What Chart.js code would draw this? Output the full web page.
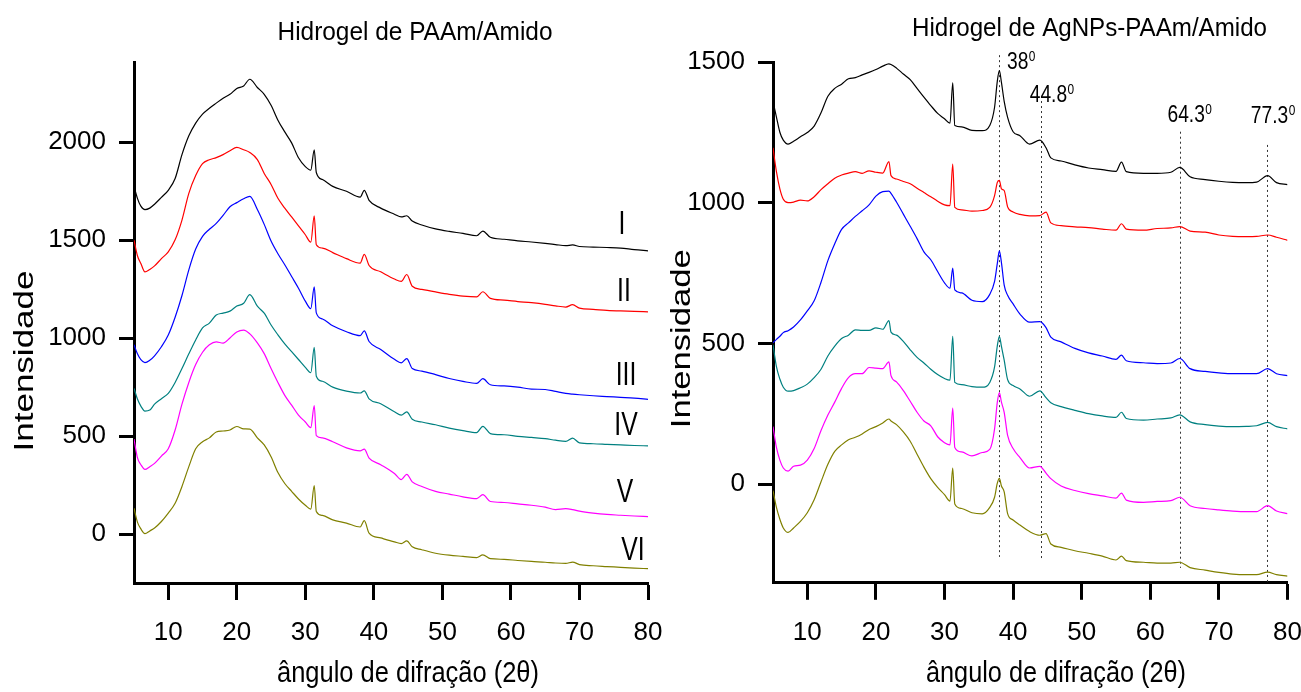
<!DOCTYPE html>
<html><head><meta charset="utf-8">
<script src="https://cdn.jsdelivr.net/npm/chart.js@4/dist/chart.umd.min.js"></script>
<style>
html,body{margin:0;padding:0;background:#fff;}
#wrap{position:relative;width:1301px;height:692px;overflow:hidden;background:#fff;}
canvas{position:absolute;top:0;}
</style></head><body>
<div id="wrap">
<canvas id="cl" width="680" height="692" style="left:0px"></canvas>
<canvas id="cr" width="661" height="692" style="left:640px"></canvas>
</div>
<script>
const FONT = '"Liberation Sans", Arial, Helvetica, sans-serif';

// ---------- tick labels ----------
const xTicks  = [10, 20, 30, 40, 50, 60, 70, 80];
const yTicksL = [0, 500, 1000, 1500, 2000];
const yTicksR = [0, 500, 1000, 1500];

// ---------- Left panel: Hidrogel de PAAm/Amido ----------
const anglesL = [5,5.5,6,6.6,7.3,8,9,10,11,12,13,14,15,16,17,18,19,20,21,21.9,23,24,25,26,27,28,29,30,30.8,31.3,31.6,32.5,34,36,38,38.6,39.3,41,43,44,44.8,45.6,47,49,51,53,55,55.9,57,59,61,63,65,66.5,68,69,70,72,74,76,78,80];
const L_I   = [1776,1714,1674,1656,1664,1684,1719,1755,1815,1937,2033,2098,2144,2174,2200,2225,2245,2275,2288,2322,2280,2245,2189,2113,2053,1997,1921,1876,1858,1962,1846,1810,1775,1750,1720,1755,1704,1664,1633,1619,1625,1598,1578,1558,1545,1535,1523,1547,1515,1505,1497,1491,1484,1478,1472,1476,1468,1465,1463,1460,1452,1446];
const L_II  = [1500,1421,1381,1338,1351,1369,1406,1441,1502,1603,1739,1830,1891,1911,1922,1937,1957,1974,1962,1948,1912,1841,1785,1714,1664,1619,1573,1528,1490,1624,1477,1460,1437,1406,1383,1428,1371,1339,1302,1290,1325,1265,1249,1236,1224,1215,1211,1237,1203,1194,1187,1181,1173,1165,1159,1171,1153,1147,1142,1139,1137,1134];
const L_III = [967,920,890,875,887,910,956,1016,1107,1218,1349,1455,1520,1556,1586,1627,1671,1692,1712,1724,1657,1581,1496,1431,1375,1315,1255,1189,1151,1262,1129,1098,1063,1033,1013,1037,983,942,892,874,896,845,832,814,794,779,769,793,762,756,750,740,738,728,718,714,711,706,702,698,694,688];
const L_IV  = [744,689,653,628,633,663,691,718,774,845,920,991,1052,1077,1118,1128,1138,1164,1178,1222,1163,1128,1067,1017,971,931,891,851,824,953,806,780,750,730,720,731,690,665,624,607,624,586,572,558,541,528,518,550,513,507,499,493,487,479,473,490,465,461,458,455,452,450];
const L_V   = [485,390,354,330,344,361,398,435,531,663,774,865,928,966,981,975,1001,1032,1041,1022,976,921,845,774,708,658,607,572,543,656,502,491,471,440,425,433,388,354,309,278,305,266,243,218,204,190,181,201,166,161,154,147,137,125,130,125,117,107,100,96,92,89];
const L_VI  = [132,61,26,2,16,31,64,107,157,243,344,435,471,491,521,526,531,549,537,536,491,455,395,314,258,218,179,147,127,247,115,95,72,56,36,68,5,-20,-40,-49,-35,-65,-80,-98,-108,-114,-120,-106,-126,-129,-135,-140,-144,-148,-150,-143,-156,-162,-166,-170,-174,-177];
const romanLabels = ['I','II','III','IV','V','VI'];

// ---------- Right panel: Hidrogel de AgNPs-PAAm/Amido ----------
const anglesR = [5,5.5,6,6.5,7.2,8,9,10,11,12,13,14,15,16,17,18,19,20,21,21.9,22.2,23,24,25,26,27,28,29,30,30.8,31.2,31.5,32.5,34,35.5,36.6,37.3,37.7,38,38.3,38.7,39.2,40,41,42.4,43.9,44.8,45.5,47,49,51,53,55,55.8,56.5,59,61,63,64.3,65.8,68,70,72,74,75.5,77.1,78.4,80];
const R_I   = [1361,1305,1251,1223,1209,1219,1235,1250,1273,1320,1379,1407,1422,1441,1445,1455,1464,1474,1486,1494,1492,1479,1458,1438,1407,1376,1346,1318,1299,1283,1427,1275,1270,1258,1257,1275,1340,1433,1470,1428,1361,1304,1253,1239,1209,1223,1196,1160,1149,1135,1124,1118,1112,1145,1111,1105,1105,1109,1126,1093,1083,1077,1073,1072,1074,1097,1072,1065];
const R_II  = [1196,1111,1050,1013,1001,1003,1010,1007,1022,1047,1068,1088,1099,1106,1111,1105,1114,1109,1106,1147,1097,1085,1076,1068,1052,1037,1022,1006,993,990,1138,984,975,971,973,984,1026,1073,1080,1050,1044,986,968,959,954,955,967,929,919,915,912,907,903,926,907,903,909,911,916,900,896,886,881,880,881,886,878,867];
const R_III = [503,515,526,539,546,559,584,616,652,718,795,855,906,929,952,972,993,1024,1040,1042,1034,1003,960,917,873,826,798,756,716,697,768,691,680,654,649,675,721,785,830,788,708,672,641,605,576,578,557,523,506,483,467,456,444,459,439,432,429,431,447,411,401,396,393,393,393,411,393,386];
const R_IV  = [496,418,374,345,331,333,343,356,379,409,456,491,518,530,549,547,547,556,551,582,541,530,508,478,451,431,409,390,376,370,526,362,354,347,345,362,417,492,526,490,441,372,351,339,313,332,308,290,276,263,251,243,238,256,234,228,232,236,247,222,212,207,205,206,208,220,205,197];
const R_V   = [205,131,86,58,47,64,68,86,127,191,246,292,341,379,393,393,415,413,411,435,386,364,333,295,256,225,208,169,148,140,271,131,115,101,113,124,197,292,326,292,256,174,127,95,58,64,40,20,-6,-22,-33,-41,-49,-31,-56,-64,-61,-58,-46,-76,-86,-91,-95,-97,-97,-76,-95,-104];
const R_VI  = [-22,-82,-124,-155,-171,-155,-132,-101,-55,9,71,117,140,158,167,179,195,205,218,232,225,212,186,153,107,61,20,-11,-37,-60,58,-70,-86,-101,-105,-82,-46,4,21,-6,-27,-104,-127,-145,-168,-181,-175,-212,-224,-236,-245,-255,-269,-255,-271,-277,-280,-280,-277,-296,-305,-313,-319,-321,-321,-312,-321,-326];

// Ag reflections marked on the right panel
const peakAngles  = [38, 44.05, 64.3, 77.0];
const peakLabels  = ['38', '44.8', '64.3', '77.3'];
const peakTop     = [1525, 1362, 1253, 1206];
const peakBottom  = [-258, -262, -297, -350];

const seriesColors = ['#000000','#ff0000','#0000ff','#008080','#ff00ff','#808000'];

// ---------- helpers ----------
function drawText(ctx, txt, x, y, o) {
  ctx.save();
  ctx.font = o.size + 'px ' + FONT;
  ctx.fillStyle = '#000';
  ctx.textAlign = o.align || 'left';
  ctx.textBaseline = 'alphabetic';
  ctx.translate(x, y);
  if (o.rot) ctx.rotate(o.rot);
  let sx = o.sx || 1;
  if (o.w) sx = o.w / ctx.measureText(txt).width;
  ctx.scale(sx, o.sy || 1);
  ctx.fillText(txt, 0, 0);
  const w = ctx.measureText(txt).width * sx;
  ctx.restore();
  return w;
}

function makeDatasets(angles, list) {
  return list.map((vals, i) => ({
    data: angles.map((a, k) => ({x: a, y: vals[k]})),
    borderColor: seriesColors[i],
    borderWidth: 1.2,
    pointRadius: 0,
    cubicInterpolationMode: 'monotone',
    fill: false
  }));
}

function scalesFor(ymin, ymax, yTicks, yWidth, xHeight) {
  const tickFont = {family: FONT, size: 26};
  return {
    x: {
      type: 'linear', min: 5, max: 80,
      afterBuildTicks: s => { s.ticks = xTicks.map(v => ({value: v})); },
      ticks: {autoSkip: false, maxRotation: 0, minRotation: 0, padding: 17, color: '#000', font: tickFont,
              callback: v => String(v)},
      grid: {drawOnChartArea: false, drawTicks: true, tickLength: 17, tickWidth: 3, tickColor: '#000'},
      border: {display: true, width: 3, color: '#000'},
      afterFit: s => { s.height = xHeight; s.paddingLeft = 0; s.paddingRight = 0; }
    },
    y: {
      type: 'linear', min: ymin, max: ymax,
      afterBuildTicks: s => { s.ticks = yTicks.map(v => ({value: v})); },
      ticks: {autoSkip: false, padding: 13, color: '#000', font: tickFont, callback: v => String(v)},
      grid: {drawOnChartArea: false, drawTicks: true, tickLength: 15, tickWidth: 3, tickColor: '#000'},
      border: {display: true, width: 3, color: '#000'},
      afterFit: s => { s.width = yWidth; s.paddingTop = 0; s.paddingBottom = 0; }
    }
  };
}

const baseOpts = {
  responsive: false, animation: false, devicePixelRatio: 1, events: [],
  plugins: {legend: {display: false}, tooltip: {enabled: false}, title: {display: false}}
};

// ---------- Left chart ----------
new Chart(document.getElementById('cl'), {
  type: 'line',
  data: {datasets: makeDatasets(anglesL, [L_I, L_II, L_III, L_IV, L_V, L_VI])},
  options: Object.assign({}, baseOpts, {
    layout: {autoPadding: false, padding: {left: 0, top: 62, right: 32, bottom: 0}},
    scales: scalesFor(-250, 2410, yTicksL, 134, 109)
  }),
  plugins: [{
    id: 'textL',
    afterDraw(chart) {
      const ctx = chart.ctx;
      drawText(ctx, 'Hidrogel de PAAm/Amido', 415, 39.5, {size: 26, w: 275, align: 'center'});
      drawText(ctx, 'Intensidade', 33, 361, {size: 36, w: 181, sy: 0.78, rot: -Math.PI / 2, align: 'center'});
      drawText(ctx, 'ângulo de difração (2θ)', 408, 682, {size: 30, w: 262, align: 'center'});
      const pos = [[622, 234], [624, 301], [626, 384.5], [626, 434.6], [625, 502], [633, 559.7]];
      romanLabels.forEach((t, i) => drawText(ctx, t, pos[i][0], pos[i][1], {size: 33, sx: 0.75, align: 'center'}));
    }
  }]
});

// ---------- Right chart ----------
new Chart(document.getElementById('cr'), {
  type: 'line',
  data: {datasets: makeDatasets(anglesR, [R_I, R_II, R_III, R_IV, R_V, R_VI])},
  options: Object.assign({}, baseOpts, {
    layout: {autoPadding: false, padding: {left: 0, top: 62.2, right: 13.5, bottom: 0}},
    scales: scalesFor(-350, 1500, yTicksR, 133, 109.2)
  }),
  plugins: [{
    id: 'peaksR',
    beforeDatasetsDraw(chart) {
      const ctx = chart.ctx, xs = chart.scales.x, ys = chart.scales.y;
      ctx.save();
      ctx.strokeStyle = '#333';
      ctx.lineWidth = 1;
      ctx.setLineDash([2, 3]);
      peakAngles.forEach((a, i) => {
        const px = Math.round(xs.getPixelForValue(a)) + 0.5;
        ctx.beginPath();
        ctx.moveTo(px, ys.getPixelForValue(peakTop[i]));
        ctx.lineTo(px, ys.getPixelForValue(peakBottom[i]));
        ctx.stroke();
      });
      ctx.restore();
    },
    afterDraw(chart) {
      const ctx = chart.ctx;
      drawText(ctx, 'Hidrogel de AgNPs-PAAm/Amido', 449.5, 36, {size: 26, w: 355, align: 'center'});
      drawText(ctx, 'Intensidade', 49.5, 338.7, {size: 36, w: 179, sy: 0.75, rot: -Math.PI / 2, align: 'center'});
      drawText(ctx, 'ângulo de difração (2θ)', 416, 682, {size: 30, w: 260, align: 'center'});
      const lp = [[367, 69], [389.7, 101.7], [527.5, 121.7], [610.8, 122.7]];
      peakLabels.forEach((t, i) => {
        const w = drawText(ctx, t, lp[i][0], lp[i][1], {size: 24, sx: 0.8});
        drawText(ctx, '0', lp[i][0] + w + 0.5, lp[i][1] - 8, {size: 14, sx: 0.85});
      });
    }
  }]
});
</script>
</body></html>
